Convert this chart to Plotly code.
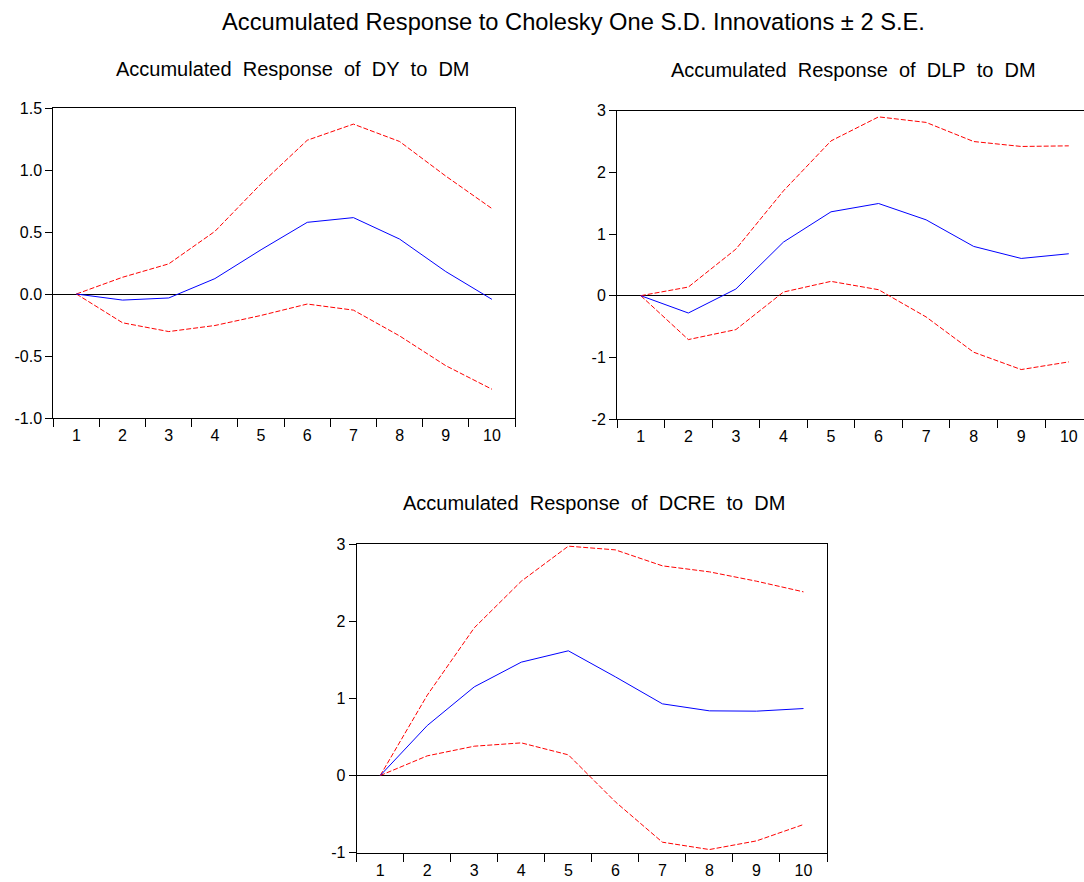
import plotly.graph_objects as go

W, H = 1084, 882

periods = ["1", "2", "3", "4", "5", "6", "7", "8", "9", "10"]

# Accumulated response of DY to DM
dy_resp = [0.0, -0.049, -0.032, 0.124, 0.357, 0.578, 0.616, 0.443, 0.181, -0.043]
dy_upper = [0.0, 0.135, 0.243, 0.505, 0.889, 1.24, 1.37, 1.23, 0.951, 0.689]
dy_lower = [0.0, -0.232, -0.303, -0.254, -0.173, -0.081, -0.130, -0.338, -0.578, -0.768]

# Accumulated response of DLP to DM
dlp_resp = [0.0, -0.281, 0.108, 0.869, 1.36, 1.495, 1.23, 0.799, 0.604, 0.680]
dlp_upper = [0.0, 0.140, 0.755, 1.70, 2.51, 2.90, 2.81, 2.50, 2.42, 2.43]
dlp_lower = [0.0, -0.712, -0.550, 0.059, 0.232, 0.097, -0.345, -0.917, -1.198, -1.074]

# Accumulated response of DCRE to DM
dcre_resp = [0.0, 0.648, 1.149, 1.469, 1.616, 1.279, 0.929, 0.838, 0.834, 0.868]
dcre_upper = [0.0, 1.041, 1.914, 2.518, 2.972, 2.924, 2.717, 2.639, 2.518, 2.380]
dcre_lower = [0.0, 0.255, 0.380, 0.423, 0.268, -0.341, -0.864, -0.959, -0.847, -0.635]

# y-axis tick values and their printed labels
dy_ticks = [-1.0, -0.5, 0.0, 0.5, 1.0, 1.5]
dy_ticklabels = ["-1.0", "-0.5", "0.0", "0.5", "1.0", "1.5"]
dlp_ticks = [-2, -1, 0, 1, 2, 3]
dlp_ticklabels = ["-2", "-1", "0", "1", "2", "3"]
dcre_ticks = [-1, 0, 1, 2, 3]
dcre_ticklabels = ["-1", "0", "1", "2", "3"]

main_title = "Accumulated Response to Cholesky One S.D. Innovations \u00b1 2 S.E."
panel_titles = [
    "Accumulated Response of DY to DM",
    "Accumulated Response of DLP to DM",
    "Accumulated Response of DCRE to DM",
]

FONT = "Liberation Sans, Arial, sans-serif"
GAP = "\u00a0\u00a0"


def px_x(v):
    return v / W


def px_y(v):
    return 1 - v / H


# panel boxes in pixels: left, top, right, bottom
boxes = [
    (53.3, 108.0, 515.0, 418.0),
    (617.0, 110.7, 1084.0, 419.0),
    (356.7, 544.0, 827.0, 852.7),
]
xranges = [[-0.5, 9.5], [-0.5, 9.32], [-0.5, 9.5]]
yranges = [[-1.0, 1.5], [-2, 3], [-1, 3]]
yticks = [(dy_ticks, dy_ticklabels), (dlp_ticks, dlp_ticklabels), (dcre_ticks, dcre_ticklabels)]
right_frame = [True, False, True]

series = [
    (dy_resp, dy_upper, dy_lower),
    (dlp_resp, dlp_upper, dlp_lower),
    (dcre_resp, dcre_upper, dcre_lower),
]

fig = go.Figure()
layout = dict(
    width=W,
    height=H,
    margin=dict(l=0, r=0, t=0, b=0, pad=0),
    autosize=False,
    paper_bgcolor="white",
    plot_bgcolor="white",
    showlegend=False,
    font=dict(family=FONT, color="black", size=16),
)

annotations = [
    dict(text=main_title, x=px_x(573), y=px_y(22), xref="paper", yref="paper",
         xanchor="center", yanchor="middle", showarrow=False,
         font=dict(family=FONT, size=23.7, color="black")),
]

for i, (box, (resp, up, lo)) in enumerate(zip(boxes, series)):
    k = "" if i == 0 else str(i + 1)
    xa, ya = "x" + k, "y" + k
    l, t, r, b = box
    for vals, color, dash in ((up, "#FF0000", "5px,2px"), (lo, "#FF0000", "5px,2px"),
                              (resp, "#0000FF", "solid")):
        fig.add_trace(go.Scatter(x=periods, y=vals, mode="lines", xaxis=xa, yaxis=ya,
                                 line=dict(color=color, width=1, dash=dash),
                                 hoverinfo="skip"))
    layout["xaxis" + k] = dict(
        domain=[px_x(l), px_x(r)], anchor=ya, type="category",
        range=xranges[i], tickson="boundaries", ticks="outside", ticklen=8,
        tickcolor="black", tickwidth=1, showline=True, linecolor="black", linewidth=1,
        mirror=True, showgrid=False, zeroline=False, automargin=False,
        ticklabelstandoff=3, tickfont=dict(family=FONT, size=16, color="black"),
    )
    tv, tt = yticks[i]
    layout["yaxis" + k] = dict(
        domain=[px_y(b), px_y(t)], anchor=xa, range=yranges[i],
        tickmode="array", tickvals=tv, ticktext=tt, ticks="outside", ticklen=7,
        tickcolor="black", tickwidth=1, showline=True, linecolor="black", linewidth=1,
        mirror=right_frame[i], showgrid=False, zeroline=True, zerolinecolor="black",
        zerolinewidth=1, automargin=False,
        tickfont=dict(family=FONT, size=16, color="black"),
    )

title_pos = [(293, 69), (853, 70), (594, 503)]
for txt, (cx, cy) in zip(panel_titles, title_pos):
    annotations.append(dict(text=txt.replace(" ", GAP), x=px_x(cx), y=px_y(cy),
                            xref="paper", yref="paper", xanchor="center",
                            yanchor="middle", showarrow=False,
                            font=dict(family=FONT, size=20, color="black")))

layout["annotations"] = annotations
fig.update_layout(**layout)
fig.write_html("out.html")
